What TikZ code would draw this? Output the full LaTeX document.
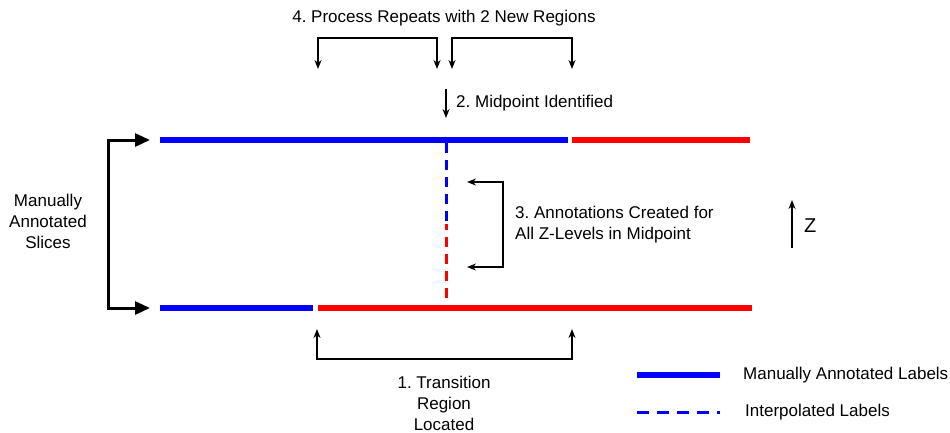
\documentclass[tikz,border=0pt]{standalone}
\usepackage{fontspec}
\setmainfont{Liberation Sans}
\usetikzlibrary{arrows.meta}
\definecolor{myblue}{RGB}{0,0,255}
\definecolor{myred}{RGB}{255,0,0}
\frenchspacing
\begin{document}
\begin{tikzpicture}[x=1pt,y=-1pt,
  lbl/.style={inner sep=0pt,font=\fontsize{17}{21}\selectfont},
  thin arrow/.style={draw=black,line width=1.5pt,-{Stealth[length=9pt,width=7pt]}},
  thick arrow/.style={draw=black,line width=3pt,-{Triangle[length=15pt,width=13pt]}},
  slab/.style={line width=6pt},
  dashline/.style={line width=3pt,dash pattern=on 10pt off 7pt}]
\useasboundingbox (0,0) rectangle (950,432);
% top slice
\coordinate (t0) at (160,140); \coordinate (t1) at (568,140);
\coordinate (t2) at (572,140); \coordinate (t3) at (750,140);
\draw[slab,myblue] (t0) -- (t1);
\draw[slab,myred] (t2) -- (t3);
% bottom slice
\coordinate (b0) at (160,308); \coordinate (b1) at (313,308);
\coordinate (b2) at (318,308); \coordinate (b3) at (752,308);
\draw[slab,myblue] (b0) -- (b1);
\draw[slab,myred] (b2) -- (b3);
% interpolated midpoint
\coordinate (m0) at (446,143); \coordinate (mm) at (446,224); \coordinate (m1) at (446,305);
\draw[dashline,myblue] (m0) -- (mm);
\draw[dashline,myred,dash phase=4pt] (mm) -- (m1);
% left bracket
\coordinate (lb0) at (108,140); \coordinate (lb1) at (108,308);
\coordinate (la0) at (150,140); \coordinate (la1) at (150,308);
\draw[thick arrow] (lb1) -- (lb0) -- (la0);
\draw[thick arrow] (lb0) -- (lb1) -- (la1);
\node[lbl,align=center] (man) at (48,221) {Manually\\Annotated\\Slices};
% step 4
\node[lbl] (s4) at (444,18) {4. Process Repeats with 2 New Regions};
\coordinate (p1) at (318,38); \coordinate (p2) at (437,38);
\coordinate (p3) at (452,38); \coordinate (p4) at (572,38);
\coordinate (q1) at (318,69); \coordinate (q2) at (437,69);
\coordinate (q3) at (452,69); \coordinate (q4) at (572,69);
\draw[thin arrow] (p2) -- (p1) -- (q1);
\draw[thin arrow] (p1) -- (p2) -- (q2);
\draw[thin arrow] (p4) -- (p3) -- (q3);
\draw[thin arrow] (p3) -- (p4) -- (q4);
% step 2
\coordinate (s2a) at (446,89); \coordinate (s2b) at (446,118);
\draw[thin arrow] (s2a) -- (s2b);
\node[lbl,anchor=west] (s2) at (456,103) {2. Midpoint Identified};
% step 3
\coordinate (r0) at (503,182); \coordinate (r1) at (503,267);
\coordinate (ra0) at (467,182); \coordinate (ra1) at (467,267);
\draw[thin arrow] (r1) -- (r0) -- (ra0);
\draw[thin arrow] (r0) -- (r1) -- (ra1);
\node[lbl,anchor=west,align=left] (s3) at (515,224.5) {3. Annotations Created for\\All Z-Levels in Midpoint};
% z arrow
\coordinate (z0) at (792,248); \coordinate (z1) at (792,200);
\draw[thin arrow] (z0) -- (z1);
\node[lbl,anchor=west,font=\fontsize{20}{24}\selectfont] (z) at (804,226) {Z};
% step 1
\coordinate (u0) at (317,359); \coordinate (u1) at (572,359);
\coordinate (ua0) at (317,329); \coordinate (ua1) at (572,329);
\draw[thin arrow] (u1) -- (u0) -- (ua0);
\draw[thin arrow] (u0) -- (u1) -- (ua1);
\node[lbl,align=center] (s1) at (444,403) {1. Transition\\Region\\Located};
% legend
\coordinate (l0) at (637,375); \coordinate (l1) at (720,375);
\coordinate (l2) at (637,412); \coordinate (l3) at (720,412);
\draw[slab,myblue] (l0) -- (l1);
\draw[dashline,myblue,dash pattern=on 12pt off 8pt] (l2) -- (l3);
\node[lbl,anchor=west] (leg1) at (743,375) {Manually Annotated Labels};
\node[lbl,anchor=west] (leg2) at (745,412) {Interpolated Labels};
\end{tikzpicture}
\end{document}
